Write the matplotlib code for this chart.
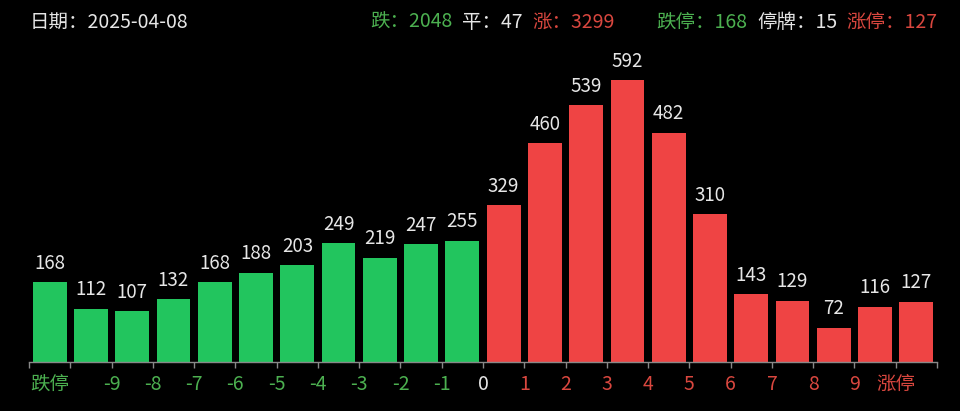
import matplotlib
matplotlib.use("Agg")
import matplotlib.pyplot as plt
import numpy as np

plt.rcParams['font.family'] = ['Noto Sans CJK SC', 'DejaVu Sans']

# Data
down_values = [168, 112, 107, 132, 168, 188, 203, 249, 219, 247, 255]
up_values = [329, 460, 539, 592, 482, 310, 143, 129, 72, 116, 127]
tick_labels = ['跌停', '-9', '-8', '-7', '-6', '-5', '-4', '-3', '-2', '-1', '0',
               '1', '2', '3', '4', '5', '6', '7', '8', '9', '涨停']
date_text = '日期：2025-04-08'
summary = [('跌：2048', 'down'), ('平：47', 'flat'), ('涨：3299', 'up'),
           ('跌停：168', 'down'), ('停牌：15', 'flat'), ('涨停：127', 'up')]

BG = '#000000'
GREEN = '#22c55e'
RED = '#ef4444'
GREEN_T = '#4cb050'
RED_T = '#d9473f'
WHITE_T = '#e6e6e6'
color_map = {'down': GREEN_T, 'flat': WHITE_T, 'up': RED_T}

W, H = 960, 411
fig = plt.figure(figsize=(W / 100, H / 100), dpi=100, facecolor=BG)
left, right, bottom, top = 29, 937, 362, 52.6
ax = fig.add_axes([left / W, 1 - bottom / H, (right - left) / W, (bottom - top) / H])
ax.set_facecolor(BG)

values = down_values + up_values
n = len(values)
x = np.arange(n)
colors = [GREEN] * len(down_values) + [RED] * len(up_values)
bars = ax.bar(x, values, width=0.82, color=colors, zorder=2)
for xi, v in zip(x, values):
    ax.annotate(str(v), (xi, v), xytext=(0, 6), textcoords='offset points',
                ha='center', va='bottom', color=WHITE_T, fontsize=13.5)

ax.set_xlim(-0.5, n - 0.5)
ax.set_ylim(0, 650)

# tick marks at slot boundaries
ax.set_xticks(np.arange(-0.5, n, 1.0))
ax.set_xticklabels([])
ax.tick_params(axis='x', length=4, color='#888888', width=1)
ax.set_yticks([])

# label positions: first/last at slot centre, others at boundaries
label_pos = [0] + [i + 0.5 for i in range(1, n - 1)] + [n - 1]
for pos, lab in zip(label_pos, tick_labels):
    if lab == '跌停' or lab.startswith('-'):
        c = GREEN_T
    elif lab == '0':
        c = WHITE_T
    else:
        c = RED_T
    ax.annotate(lab, (pos, 0), xytext=(0, -16), textcoords='offset points',
                ha='center', va='center', color=c, fontsize=14)

for s in ['top', 'right', 'left']:
    ax.spines[s].set_visible(False)
ax.spines['bottom'].set_color('#888888')
ax.spines['bottom'].set_linewidth(1)

# header
fig.text(30 / W, 1 - 22 / H, date_text, color=WHITE_T, fontsize=14, ha='left', va='center')
xs = [370, 462, 532, 656, 757, 846]
for xp, (txt, kind) in zip(xs, summary):
    fig.text(xp / W, 1 - 22 / H, txt, color=color_map[kind], fontsize=14,
             ha='left', va='center')

fig.savefig('out.png', dpi=100, facecolor=BG)
